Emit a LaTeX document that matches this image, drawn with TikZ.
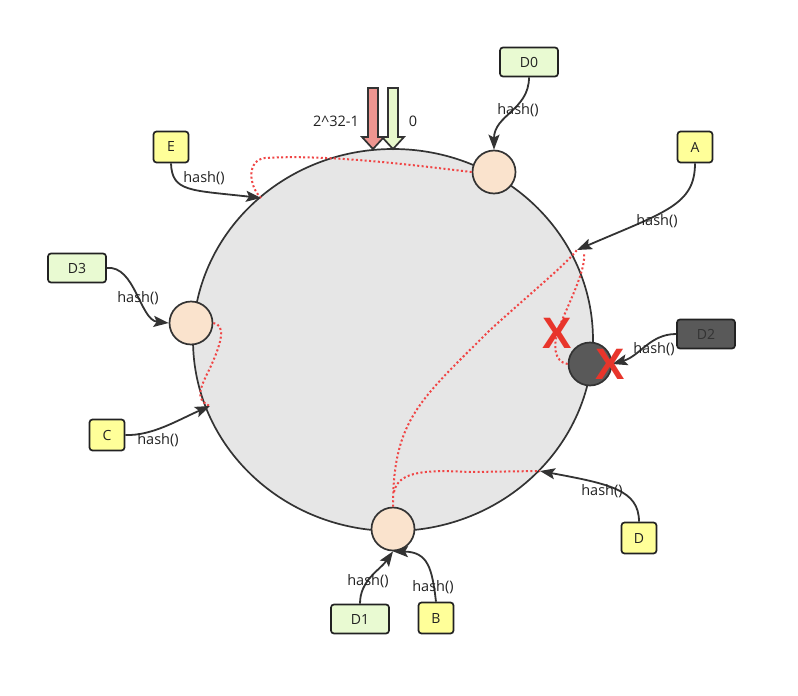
\documentclass[tikz,border=0pt]{standalone}
\usepackage{fontspec}
\setmainfont{Open Sans}
\usetikzlibrary{arrows.meta}
\definecolor{ringfill}{HTML}{E6E6E6}
\definecolor{linec}{HTML}{333333}
\definecolor{peerfill}{HTML}{FAE3CD}
\definecolor{deadfill}{HTML}{595959}
\definecolor{yfill}{HTML}{FFFF99}
\definecolor{gfill}{HTML}{E9FAD2}
\definecolor{dotred}{HTML}{F04545}
\definecolor{xred}{HTML}{E8352B}
\definecolor{arrred}{HTML}{EE9590}
\definecolor{arrgreen}{HTML}{E8F8CC}
\definecolor{textc}{HTML}{222222}
\tikzset{
  peer/.style={circle, draw=linec, line width=1.7pt, fill=peerfill, minimum size=43pt, inner sep=0},
  deadpeer/.style={peer, fill=deadfill},
  ybox/.style={draw=textc, line width=1.7pt, rounded corners=3pt, fill=yfill, minimum width=35pt, minimum height=31pt, inner sep=0, font=\fontsize{14}{16}\selectfont, text=textc},
  gbox/.style={ybox, fill=gfill, minimum width=58pt, minimum height=29pt},
  dbox/.style={ybox, fill=deadfill, minimum width=58pt, minimum height=29pt, text=linec},
  conn/.style={draw=linec, line width=1.8pt, -{Stealth[length=15pt,width=11pt,inset=3pt]}},
  lbl/.style={font=\fontsize{14.5}{16}\selectfont, text=textc, inner sep=0},
  reddot/.style={draw=dotred, line width=2pt, dash pattern=on 2pt off 2.4pt},
  bigx/.style={font=\fontsize{44}{44}\bfseries\fontspec{Liberation Sans}, text=xred, inner sep=0},
  blockarrow/.style={draw=linec, line width=1.7pt, line join=miter}
}
\begin{document}
\begin{tikzpicture}[x=1pt,y=-1pt]
\useasboundingbox (0,0) rectangle (798,696);
\fill[white] (0,0) rectangle (798,696);

% ring
\draw[draw=linec, line width=1.7pt, fill=ringfill] (393,340) ellipse [x radius=200pt, y radius=191pt];

% block arrows at top
\draw[blockarrow, fill=arrred] (368,88) -- (378,88) -- (378,137) -- (384,137) -- (373,149) -- (362,137) -- (368,137) -- cycle;
\draw[blockarrow, fill=arrgreen] (388,88) -- (398,88) -- (398,137) -- (404,137) -- (393,149) -- (382,137) -- (388,137) -- cycle;
\node[lbl] (lmax) at (336,121) {2\^{}32-1};
\node[lbl] (lzero) at (413,121) {0};

% peers on ring
\node[peer] (n0) at (494,172) {};
\node[peer] (n3) at (191,323) {};
\node[deadpeer] (n2) at (590,364) {};
\node[peer] (n1) at (393,529) {};

% boxes
\node[gbox] (D0) at (529,62) {D0};
\node[ybox] (E) at (171,147) {E};
\node[ybox] (A) at (695,147) {A};
\node[gbox] (D3) at (77,268) {D3};
\node[ybox] (C) at (107,435) {C};
\node[dbox] (D2) at (706,334) {D2};
\node[ybox] (D) at (639,538) {D};
\node[gbox] (D1) at (360,619) {D1};
\node[ybox] (B) at (436,618) {B};

% points on ring
\coordinate (pE) at (261,198);
\coordinate (pA) at (577,250);
\coordinate (pC) at (210,406);
\coordinate (pD) at (540,471);

% red dotted paths
\draw[reddot] (n0.west) .. controls (420,166) and (330,154) .. (265,158) .. controls (247,160) and (248,185) .. (pE);
\draw[reddot] (n3.east) .. controls (226,325) and (222,342) .. (210,368) .. controls (199,390) and (195,400) .. (pC);
\draw[reddot] (n1.north) .. controls (393,420) and (420,400) .. (490,330) .. controls (540,285) and (565,265) .. (pA);
\draw[reddot] (394,492) .. controls (398,470) and (430,470) .. (470,472) -- (pD);
\draw[reddot] (n2.west) .. controls (554,362) and (552,345) .. (560,325) .. controls (574,292) and (586,268) .. (584,252);

% connectors
\draw[conn] (D0.south) .. controls (529,110) and (494,115) .. (n0.north);
\draw[conn] (E.south) .. controls (172,192) and (190,190) .. (pE);
\draw[conn] (A.south) .. controls (695,205) and (665,212) .. (pA);
\draw[conn] (D3.east) .. controls (135,265) and (140,320) .. (n3.west);
\draw[conn] (C.east) .. controls (152,436) and (178,420) .. (pC);
\draw[conn] (D2.west) .. controls (650,334) and (640,356) .. (n2.east);
\draw[conn] (D.north) .. controls (639,490) and (610,484) .. (pD);
\draw[conn] (D1.north) .. controls (360,580) and (380,570) .. (n1.south);
\draw[conn] (B.north) .. controls (432,568) and (428,552) .. (n1.south);

% labels
\node[lbl] (h0) at (518,110) {hash()};
\node[lbl] (hE) at (204,178) {hash()};
\node[lbl] (hA) at (657,221) {hash()};
\node[lbl] (h3) at (138,298) {hash()};
\node[lbl] (hC) at (158,440) {hash()};
\node[lbl] (h2) at (654,349) {hash()};
\node[lbl] (hD) at (602,491) {hash()};
\node[lbl] (h1) at (368,581) {hash()};
\node[lbl] (hB) at (433,587) {hash()};

% X marks
\node[bigx] (x1) at (557,333) {X};
\node[bigx] (x2) at (610,364) {X};
\end{tikzpicture}
\end{document}
